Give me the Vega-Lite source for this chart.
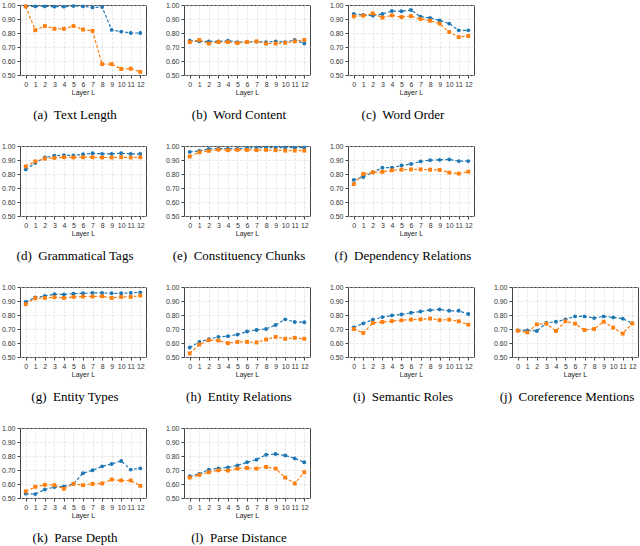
{
"$schema": "https://vega.github.io/schema/vega-lite/v6.json",
"padding": {"left": 0, "top": 0, "right": 0, "bottom": 0},
"bounds": "flush",
"columns": 4,
"spacing": {"row": 71, "column": 38},
"data": {"values": [
{"task":"a","layer":0,"series":"S1","value":0.99},{"task":"a","layer":1,"series":"S1","value":0.99},{"task":"a","layer":2,"series":"S1","value":0.99},{"task":"a","layer":3,"series":"S1","value":0.988},{"task":"a","layer":4,"series":"S1","value":0.988},{"task":"a","layer":5,"series":"S1","value":0.992},{"task":"a","layer":6,"series":"S1","value":0.99},{"task":"a","layer":7,"series":"S1","value":0.983},{"task":"a","layer":8,"series":"S1","value":0.985},{"task":"a","layer":9,"series":"S1","value":0.822},{"task":"a","layer":10,"series":"S1","value":0.81},{"task":"a","layer":11,"series":"S1","value":0.8},{"task":"a","layer":12,"series":"S1","value":0.8},
{"task":"a","layer":0,"series":"S2","value":0.99},{"task":"a","layer":1,"series":"S2","value":0.82},{"task":"a","layer":2,"series":"S2","value":0.85},{"task":"a","layer":3,"series":"S2","value":0.83},{"task":"a","layer":4,"series":"S2","value":0.83},{"task":"a","layer":5,"series":"S2","value":0.85},{"task":"a","layer":6,"series":"S2","value":0.825},{"task":"a","layer":7,"series":"S2","value":0.815},{"task":"a","layer":8,"series":"S2","value":0.578},{"task":"a","layer":9,"series":"S2","value":0.578},{"task":"a","layer":10,"series":"S2","value":0.543},{"task":"a","layer":11,"series":"S2","value":0.545},{"task":"a","layer":12,"series":"S2","value":0.523},
{"task":"b","layer":0,"series":"S1","value":0.745},{"task":"b","layer":1,"series":"S1","value":0.74},{"task":"b","layer":2,"series":"S1","value":0.74},{"task":"b","layer":3,"series":"S1","value":0.74},{"task":"b","layer":4,"series":"S1","value":0.745},{"task":"b","layer":5,"series":"S1","value":0.735},{"task":"b","layer":6,"series":"S1","value":0.735},{"task":"b","layer":7,"series":"S1","value":0.738},{"task":"b","layer":8,"series":"S1","value":0.735},{"task":"b","layer":9,"series":"S1","value":0.74},{"task":"b","layer":10,"series":"S1","value":0.735},{"task":"b","layer":11,"series":"S1","value":0.75},{"task":"b","layer":12,"series":"S1","value":0.725},
{"task":"b","layer":0,"series":"S2","value":0.735},{"task":"b","layer":1,"series":"S2","value":0.75},{"task":"b","layer":2,"series":"S2","value":0.725},{"task":"b","layer":3,"series":"S2","value":0.735},{"task":"b","layer":4,"series":"S2","value":0.735},{"task":"b","layer":5,"series":"S2","value":0.728},{"task":"b","layer":6,"series":"S2","value":0.735},{"task":"b","layer":7,"series":"S2","value":0.74},{"task":"b","layer":8,"series":"S2","value":0.725},{"task":"b","layer":9,"series":"S2","value":0.725},{"task":"b","layer":10,"series":"S2","value":0.73},{"task":"b","layer":11,"series":"S2","value":0.74},{"task":"b","layer":12,"series":"S2","value":0.75},
{"task":"c","layer":0,"series":"S1","value":0.936},{"task":"c","layer":1,"series":"S1","value":0.929},{"task":"c","layer":2,"series":"S1","value":0.924},{"task":"c","layer":3,"series":"S1","value":0.936},{"task":"c","layer":4,"series":"S1","value":0.957},{"task":"c","layer":5,"series":"S1","value":0.955},{"task":"c","layer":6,"series":"S1","value":0.964},{"task":"c","layer":7,"series":"S1","value":0.917},{"task":"c","layer":8,"series":"S1","value":0.907},{"task":"c","layer":9,"series":"S1","value":0.89},{"task":"c","layer":10,"series":"S1","value":0.867},{"task":"c","layer":11,"series":"S1","value":0.819},{"task":"c","layer":12,"series":"S1","value":0.819},
{"task":"c","layer":0,"series":"S2","value":0.919},{"task":"c","layer":1,"series":"S2","value":0.924},{"task":"c","layer":2,"series":"S2","value":0.94},{"task":"c","layer":3,"series":"S2","value":0.91},{"task":"c","layer":4,"series":"S2","value":0.926},{"task":"c","layer":5,"series":"S2","value":0.914},{"task":"c","layer":6,"series":"S2","value":0.921},{"task":"c","layer":7,"series":"S2","value":0.9},{"task":"c","layer":8,"series":"S2","value":0.888},{"task":"c","layer":9,"series":"S2","value":0.867},{"task":"c","layer":10,"series":"S2","value":0.807},{"task":"c","layer":11,"series":"S2","value":0.771},{"task":"c","layer":12,"series":"S2","value":0.779},
{"task":"d","layer":0,"series":"S1","value":0.833},{"task":"d","layer":1,"series":"S1","value":0.878},{"task":"d","layer":2,"series":"S1","value":0.918},{"task":"d","layer":3,"series":"S1","value":0.93},{"task":"d","layer":4,"series":"S1","value":0.934},{"task":"d","layer":5,"series":"S1","value":0.932},{"task":"d","layer":6,"series":"S1","value":0.941},{"task":"d","layer":7,"series":"S1","value":0.948},{"task":"d","layer":8,"series":"S1","value":0.944},{"task":"d","layer":9,"series":"S1","value":0.944},{"task":"d","layer":10,"series":"S1","value":0.948},{"task":"d","layer":11,"series":"S1","value":0.944},{"task":"d","layer":12,"series":"S1","value":0.944},
{"task":"d","layer":0,"series":"S2","value":0.854},{"task":"d","layer":1,"series":"S2","value":0.89},{"task":"d","layer":2,"series":"S2","value":0.91},{"task":"d","layer":3,"series":"S2","value":0.915},{"task":"d","layer":4,"series":"S2","value":0.92},{"task":"d","layer":5,"series":"S2","value":0.918},{"task":"d","layer":6,"series":"S2","value":0.92},{"task":"d","layer":7,"series":"S2","value":0.92},{"task":"d","layer":8,"series":"S2","value":0.918},{"task":"d","layer":9,"series":"S2","value":0.918},{"task":"d","layer":10,"series":"S2","value":0.92},{"task":"d","layer":11,"series":"S2","value":0.918},{"task":"d","layer":12,"series":"S2","value":0.92},
{"task":"e","layer":0,"series":"S1","value":0.958},{"task":"e","layer":1,"series":"S1","value":0.965},{"task":"e","layer":2,"series":"S1","value":0.979},{"task":"e","layer":3,"series":"S1","value":0.981},{"task":"e","layer":4,"series":"S1","value":0.981},{"task":"e","layer":5,"series":"S1","value":0.981},{"task":"e","layer":6,"series":"S1","value":0.986},{"task":"e","layer":7,"series":"S1","value":0.988},{"task":"e","layer":8,"series":"S1","value":0.988},{"task":"e","layer":9,"series":"S1","value":0.988},{"task":"e","layer":10,"series":"S1","value":0.988},{"task":"e","layer":11,"series":"S1","value":0.988},{"task":"e","layer":12,"series":"S1","value":0.988},
{"task":"e","layer":0,"series":"S2","value":0.925},{"task":"e","layer":1,"series":"S2","value":0.955},{"task":"e","layer":2,"series":"S2","value":0.965},{"task":"e","layer":3,"series":"S2","value":0.974},{"task":"e","layer":4,"series":"S2","value":0.97},{"task":"e","layer":5,"series":"S2","value":0.972},{"task":"e","layer":6,"series":"S2","value":0.972},{"task":"e","layer":7,"series":"S2","value":0.97},{"task":"e","layer":8,"series":"S2","value":0.972},{"task":"e","layer":9,"series":"S2","value":0.97},{"task":"e","layer":10,"series":"S2","value":0.967},{"task":"e","layer":11,"series":"S2","value":0.967},{"task":"e","layer":12,"series":"S2","value":0.967},
{"task":"f","layer":0,"series":"S1","value":0.758},{"task":"f","layer":1,"series":"S1","value":0.779},{"task":"f","layer":2,"series":"S1","value":0.812},{"task":"f","layer":3,"series":"S1","value":0.845},{"task":"f","layer":4,"series":"S1","value":0.845},{"task":"f","layer":5,"series":"S1","value":0.861},{"task":"f","layer":6,"series":"S1","value":0.871},{"task":"f","layer":7,"series":"S1","value":0.89},{"task":"f","layer":8,"series":"S1","value":0.899},{"task":"f","layer":9,"series":"S1","value":0.901},{"task":"f","layer":10,"series":"S1","value":0.904},{"task":"f","layer":11,"series":"S1","value":0.892},{"task":"f","layer":12,"series":"S1","value":0.892},
{"task":"f","layer":0,"series":"S2","value":0.728},{"task":"f","layer":1,"series":"S2","value":0.8},{"task":"f","layer":2,"series":"S2","value":0.812},{"task":"f","layer":3,"series":"S2","value":0.815},{"task":"f","layer":4,"series":"S2","value":0.826},{"task":"f","layer":5,"series":"S2","value":0.831},{"task":"f","layer":6,"series":"S2","value":0.833},{"task":"f","layer":7,"series":"S2","value":0.833},{"task":"f","layer":8,"series":"S2","value":0.831},{"task":"f","layer":9,"series":"S2","value":0.829},{"task":"f","layer":10,"series":"S2","value":0.81},{"task":"f","layer":11,"series":"S2","value":0.803},{"task":"f","layer":12,"series":"S2","value":0.817},
{"task":"g","layer":0,"series":"S1","value":0.894},{"task":"g","layer":1,"series":"S1","value":0.925},{"task":"g","layer":2,"series":"S1","value":0.936},{"task":"g","layer":3,"series":"S1","value":0.948},{"task":"g","layer":4,"series":"S1","value":0.946},{"task":"g","layer":5,"series":"S1","value":0.953},{"task":"g","layer":6,"series":"S1","value":0.955},{"task":"g","layer":7,"series":"S1","value":0.958},{"task":"g","layer":8,"series":"S1","value":0.958},{"task":"g","layer":9,"series":"S1","value":0.955},{"task":"g","layer":10,"series":"S1","value":0.955},{"task":"g","layer":11,"series":"S1","value":0.958},{"task":"g","layer":12,"series":"S1","value":0.962},
{"task":"g","layer":0,"series":"S2","value":0.877},{"task":"g","layer":1,"series":"S2","value":0.92},{"task":"g","layer":2,"series":"S2","value":0.922},{"task":"g","layer":3,"series":"S2","value":0.927},{"task":"g","layer":4,"series":"S2","value":0.922},{"task":"g","layer":5,"series":"S2","value":0.929},{"task":"g","layer":6,"series":"S2","value":0.932},{"task":"g","layer":7,"series":"S2","value":0.932},{"task":"g","layer":8,"series":"S2","value":0.934},{"task":"g","layer":9,"series":"S2","value":0.922},{"task":"g","layer":10,"series":"S2","value":0.929},{"task":"g","layer":11,"series":"S2","value":0.929},{"task":"g","layer":12,"series":"S2","value":0.939},
{"task":"h","layer":0,"series":"S1","value":0.568},{"task":"h","layer":1,"series":"S1","value":0.608},{"task":"h","layer":2,"series":"S1","value":0.627},{"task":"h","layer":3,"series":"S1","value":0.644},{"task":"h","layer":4,"series":"S1","value":0.649},{"task":"h","layer":5,"series":"S1","value":0.66},{"task":"h","layer":6,"series":"S1","value":0.682},{"task":"h","layer":7,"series":"S1","value":0.693},{"task":"h","layer":8,"series":"S1","value":0.7},{"task":"h","layer":9,"series":"S1","value":0.729},{"task":"h","layer":10,"series":"S1","value":0.769},{"task":"h","layer":11,"series":"S1","value":0.75},{"task":"h","layer":12,"series":"S1","value":0.748},
{"task":"h","layer":0,"series":"S2","value":0.526},{"task":"h","layer":1,"series":"S2","value":0.589},{"task":"h","layer":2,"series":"S2","value":0.62},{"task":"h","layer":3,"series":"S2","value":0.618},{"task":"h","layer":4,"series":"S2","value":0.599},{"task":"h","layer":5,"series":"S2","value":0.608},{"task":"h","layer":6,"series":"S2","value":0.608},{"task":"h","layer":7,"series":"S2","value":0.604},{"task":"h","layer":8,"series":"S2","value":0.625},{"task":"h","layer":9,"series":"S2","value":0.644},{"task":"h","layer":10,"series":"S2","value":0.63},{"task":"h","layer":11,"series":"S2","value":0.637},{"task":"h","layer":12,"series":"S2","value":0.63},
{"task":"i","layer":0,"series":"S1","value":0.712},{"task":"i","layer":1,"series":"S1","value":0.74},{"task":"i","layer":2,"series":"S1","value":0.767},{"task":"i","layer":3,"series":"S1","value":0.785},{"task":"i","layer":4,"series":"S1","value":0.797},{"task":"i","layer":5,"series":"S1","value":0.804},{"task":"i","layer":6,"series":"S1","value":0.816},{"task":"i","layer":7,"series":"S1","value":0.825},{"task":"i","layer":8,"series":"S1","value":0.835},{"task":"i","layer":9,"series":"S1","value":0.84},{"task":"i","layer":10,"series":"S1","value":0.83},{"task":"i","layer":11,"series":"S1","value":0.83},{"task":"i","layer":12,"series":"S1","value":0.807},
{"task":"i","layer":0,"series":"S2","value":0.7},{"task":"i","layer":1,"series":"S2","value":0.672},{"task":"i","layer":2,"series":"S2","value":0.743},{"task":"i","layer":3,"series":"S2","value":0.75},{"task":"i","layer":4,"series":"S2","value":0.757},{"task":"i","layer":5,"series":"S2","value":0.762},{"task":"i","layer":6,"series":"S2","value":0.767},{"task":"i","layer":7,"series":"S2","value":0.769},{"task":"i","layer":8,"series":"S2","value":0.774},{"task":"i","layer":9,"series":"S2","value":0.764},{"task":"i","layer":10,"series":"S2","value":0.767},{"task":"i","layer":11,"series":"S2","value":0.755},{"task":"i","layer":12,"series":"S2","value":0.731},
{"task":"j","layer":0,"series":"S1","value":0.69},{"task":"j","layer":1,"series":"S1","value":0.69},{"task":"j","layer":2,"series":"S1","value":0.686},{"task":"j","layer":3,"series":"S1","value":0.743},{"task":"j","layer":4,"series":"S1","value":0.752},{"task":"j","layer":5,"series":"S1","value":0.769},{"task":"j","layer":6,"series":"S1","value":0.79},{"task":"j","layer":7,"series":"S1","value":0.79},{"task":"j","layer":8,"series":"S1","value":0.778},{"task":"j","layer":9,"series":"S1","value":0.79},{"task":"j","layer":10,"series":"S1","value":0.783},{"task":"j","layer":11,"series":"S1","value":0.774},{"task":"j","layer":12,"series":"S1","value":0.74},
{"task":"j","layer":0,"series":"S2","value":0.688},{"task":"j","layer":1,"series":"S2","value":0.676},{"task":"j","layer":2,"series":"S2","value":0.733},{"task":"j","layer":3,"series":"S2","value":0.738},{"task":"j","layer":4,"series":"S2","value":0.686},{"task":"j","layer":5,"series":"S2","value":0.755},{"task":"j","layer":6,"series":"S2","value":0.738},{"task":"j","layer":7,"series":"S2","value":0.693},{"task":"j","layer":8,"series":"S2","value":0.7},{"task":"j","layer":9,"series":"S2","value":0.752},{"task":"j","layer":10,"series":"S2","value":0.71},{"task":"j","layer":11,"series":"S2","value":0.667},{"task":"j","layer":12,"series":"S2","value":0.74},
{"task":"k","layer":0,"series":"S1","value":0.531},{"task":"k","layer":1,"series":"S1","value":0.528},{"task":"k","layer":2,"series":"S1","value":0.561},{"task":"k","layer":3,"series":"S1","value":0.578},{"task":"k","layer":4,"series":"S1","value":0.583},{"task":"k","layer":5,"series":"S1","value":0.601},{"task":"k","layer":6,"series":"S1","value":0.677},{"task":"k","layer":7,"series":"S1","value":0.698},{"task":"k","layer":8,"series":"S1","value":0.726},{"task":"k","layer":9,"series":"S1","value":0.743},{"task":"k","layer":10,"series":"S1","value":0.764},{"task":"k","layer":11,"series":"S1","value":0.703},{"task":"k","layer":12,"series":"S1","value":0.712},
{"task":"k","layer":0,"series":"S2","value":0.547},{"task":"k","layer":1,"series":"S2","value":0.58},{"task":"k","layer":2,"series":"S2","value":0.594},{"task":"k","layer":3,"series":"S2","value":0.592},{"task":"k","layer":4,"series":"S2","value":0.566},{"task":"k","layer":5,"series":"S2","value":0.601},{"task":"k","layer":6,"series":"S2","value":0.592},{"task":"k","layer":7,"series":"S2","value":0.601},{"task":"k","layer":8,"series":"S2","value":0.604},{"task":"k","layer":9,"series":"S2","value":0.632},{"task":"k","layer":10,"series":"S2","value":0.625},{"task":"k","layer":11,"series":"S2","value":0.625},{"task":"k","layer":12,"series":"S2","value":0.587},
{"task":"l","layer":0,"series":"S1","value":0.656},{"task":"l","layer":1,"series":"S1","value":0.672},{"task":"l","layer":2,"series":"S1","value":0.703},{"task":"l","layer":3,"series":"S1","value":0.712},{"task":"l","layer":4,"series":"S1","value":0.719},{"task":"l","layer":5,"series":"S1","value":0.733},{"task":"l","layer":6,"series":"S1","value":0.755},{"task":"l","layer":7,"series":"S1","value":0.774},{"task":"l","layer":8,"series":"S1","value":0.809},{"task":"l","layer":9,"series":"S1","value":0.814},{"task":"l","layer":10,"series":"S1","value":0.804},{"task":"l","layer":11,"series":"S1","value":0.783},{"task":"l","layer":12,"series":"S1","value":0.755},
{"task":"l","layer":0,"series":"S2","value":0.646},{"task":"l","layer":1,"series":"S2","value":0.665},{"task":"l","layer":2,"series":"S2","value":0.684},{"task":"l","layer":3,"series":"S2","value":0.698},{"task":"l","layer":4,"series":"S2","value":0.696},{"task":"l","layer":5,"series":"S2","value":0.71},{"task":"l","layer":6,"series":"S2","value":0.715},{"task":"l","layer":7,"series":"S2","value":0.71},{"task":"l","layer":8,"series":"S2","value":0.722},{"task":"l","layer":9,"series":"S2","value":0.71},{"task":"l","layer":10,"series":"S2","value":0.646},{"task":"l","layer":11,"series":"S2","value":0.604},{"task":"l","layer":12,"series":"S2","value":0.684}
]},
"concat": [
{"title": "(a)\u00a0 Text Length", "width": 126, "height": 70, "transform": [{"filter": "datum.task == 'a'"}],
 "encoding": {"x": {"field": "layer", "type": "quantitative", "scale": {"domain": [-0.6, 12.6], "nice": false, "zero": false}, "axis": {"values": [0,1,2,3,4,5,6,7,8,9,10,11,12], "title": "Layer L"}}, "y": {"field": "value", "type": "quantitative", "scale": {"domain": [0.5, 1.0], "nice": false, "zero": false}, "axis": {"values": [0.5,0.6,0.7,0.8,0.9,1.0], "format": ".2f", "title": null}}, "color": {"field": "series", "type": "nominal", "scale": {"domain": ["S1","S2"], "range": ["#1f77b4","#ff7f0e"]}, "legend": null}},
 "layer": [{"mark": {"type": "line", "strokeDash": [3,2], "strokeWidth": 1.2}}, {"mark": {"type": "point", "filled": true, "size": 15, "opacity": 1}, "encoding": {"shape": {"field": "series", "type": "nominal", "scale": {"domain": ["S1","S2"], "range": ["circle","square"]}, "legend": null}}}]},
{"title": "(b)\u00a0 Word Content", "width": 126, "height": 70, "transform": [{"filter": "datum.task == 'b'"}],
 "encoding": {"x": {"field": "layer", "type": "quantitative", "scale": {"domain": [-0.6, 12.6], "nice": false, "zero": false}, "axis": {"values": [0,1,2,3,4,5,6,7,8,9,10,11,12], "title": "Layer L"}}, "y": {"field": "value", "type": "quantitative", "scale": {"domain": [0.5, 1.0], "nice": false, "zero": false}, "axis": {"values": [0.5,0.6,0.7,0.8,0.9,1.0], "format": ".2f", "title": null}}, "color": {"field": "series", "type": "nominal", "scale": {"domain": ["S1","S2"], "range": ["#1f77b4","#ff7f0e"]}, "legend": null}},
 "layer": [{"mark": {"type": "line", "strokeDash": [3,2], "strokeWidth": 1.2}}, {"mark": {"type": "point", "filled": true, "size": 15, "opacity": 1}, "encoding": {"shape": {"field": "series", "type": "nominal", "scale": {"domain": ["S1","S2"], "range": ["circle","square"]}, "legend": null}}}]},
{"title": "(c)\u00a0 Word Order", "width": 126, "height": 70, "transform": [{"filter": "datum.task == 'c'"}],
 "encoding": {"x": {"field": "layer", "type": "quantitative", "scale": {"domain": [-0.6, 12.6], "nice": false, "zero": false}, "axis": {"values": [0,1,2,3,4,5,6,7,8,9,10,11,12], "title": "Layer L"}}, "y": {"field": "value", "type": "quantitative", "scale": {"domain": [0.5, 1.0], "nice": false, "zero": false}, "axis": {"values": [0.5,0.6,0.7,0.8,0.9,1.0], "format": ".2f", "title": null}}, "color": {"field": "series", "type": "nominal", "scale": {"domain": ["S1","S2"], "range": ["#1f77b4","#ff7f0e"]}, "legend": null}},
 "layer": [{"mark": {"type": "line", "strokeDash": [3,2], "strokeWidth": 1.2}}, {"mark": {"type": "point", "filled": true, "size": 15, "opacity": 1}, "encoding": {"shape": {"field": "series", "type": "nominal", "scale": {"domain": ["S1","S2"], "range": ["circle","square"]}, "legend": null}}}]},
{"width": 126, "height": 70, "data": {"values": []}, "mark": {"type": "point"}, "encoding": {}, "view": {"stroke": null}},
{"title": "(d)\u00a0 Grammatical Tags", "width": 126, "height": 70, "transform": [{"filter": "datum.task == 'd'"}],
 "encoding": {"x": {"field": "layer", "type": "quantitative", "scale": {"domain": [-0.6, 12.6], "nice": false, "zero": false}, "axis": {"values": [0,1,2,3,4,5,6,7,8,9,10,11,12], "title": "Layer L"}}, "y": {"field": "value", "type": "quantitative", "scale": {"domain": [0.5, 1.0], "nice": false, "zero": false}, "axis": {"values": [0.5,0.6,0.7,0.8,0.9,1.0], "format": ".2f", "title": null}}, "color": {"field": "series", "type": "nominal", "scale": {"domain": ["S1","S2"], "range": ["#1f77b4","#ff7f0e"]}, "legend": null}},
 "layer": [{"mark": {"type": "line", "strokeDash": [3,2], "strokeWidth": 1.2}}, {"mark": {"type": "point", "filled": true, "size": 15, "opacity": 1}, "encoding": {"shape": {"field": "series", "type": "nominal", "scale": {"domain": ["S1","S2"], "range": ["circle","square"]}, "legend": null}}}]},
{"title": "(e)\u00a0 Constituency Chunks", "width": 126, "height": 70, "transform": [{"filter": "datum.task == 'e'"}],
 "encoding": {"x": {"field": "layer", "type": "quantitative", "scale": {"domain": [-0.6, 12.6], "nice": false, "zero": false}, "axis": {"values": [0,1,2,3,4,5,6,7,8,9,10,11,12], "title": "Layer L"}}, "y": {"field": "value", "type": "quantitative", "scale": {"domain": [0.5, 1.0], "nice": false, "zero": false}, "axis": {"values": [0.5,0.6,0.7,0.8,0.9,1.0], "format": ".2f", "title": null}}, "color": {"field": "series", "type": "nominal", "scale": {"domain": ["S1","S2"], "range": ["#1f77b4","#ff7f0e"]}, "legend": null}},
 "layer": [{"mark": {"type": "line", "strokeDash": [3,2], "strokeWidth": 1.2}}, {"mark": {"type": "point", "filled": true, "size": 15, "opacity": 1}, "encoding": {"shape": {"field": "series", "type": "nominal", "scale": {"domain": ["S1","S2"], "range": ["circle","square"]}, "legend": null}}}]},
{"title": "(f)\u00a0 Dependency Relations", "width": 126, "height": 70, "transform": [{"filter": "datum.task == 'f'"}],
 "encoding": {"x": {"field": "layer", "type": "quantitative", "scale": {"domain": [-0.6, 12.6], "nice": false, "zero": false}, "axis": {"values": [0,1,2,3,4,5,6,7,8,9,10,11,12], "title": "Layer L"}}, "y": {"field": "value", "type": "quantitative", "scale": {"domain": [0.5, 1.0], "nice": false, "zero": false}, "axis": {"values": [0.5,0.6,0.7,0.8,0.9,1.0], "format": ".2f", "title": null}}, "color": {"field": "series", "type": "nominal", "scale": {"domain": ["S1","S2"], "range": ["#1f77b4","#ff7f0e"]}, "legend": null}},
 "layer": [{"mark": {"type": "line", "strokeDash": [3,2], "strokeWidth": 1.2}}, {"mark": {"type": "point", "filled": true, "size": 15, "opacity": 1}, "encoding": {"shape": {"field": "series", "type": "nominal", "scale": {"domain": ["S1","S2"], "range": ["circle","square"]}, "legend": null}}}]},
{"width": 126, "height": 70, "data": {"values": []}, "mark": {"type": "point"}, "encoding": {}, "view": {"stroke": null}},
{"title": "(g)\u00a0 Entity Types", "width": 126, "height": 70, "transform": [{"filter": "datum.task == 'g'"}],
 "encoding": {"x": {"field": "layer", "type": "quantitative", "scale": {"domain": [-0.6, 12.6], "nice": false, "zero": false}, "axis": {"values": [0,1,2,3,4,5,6,7,8,9,10,11,12], "title": "Layer L"}}, "y": {"field": "value", "type": "quantitative", "scale": {"domain": [0.5, 1.0], "nice": false, "zero": false}, "axis": {"values": [0.5,0.6,0.7,0.8,0.9,1.0], "format": ".2f", "title": null}}, "color": {"field": "series", "type": "nominal", "scale": {"domain": ["S1","S2"], "range": ["#1f77b4","#ff7f0e"]}, "legend": null}},
 "layer": [{"mark": {"type": "line", "strokeDash": [3,2], "strokeWidth": 1.2}}, {"mark": {"type": "point", "filled": true, "size": 15, "opacity": 1}, "encoding": {"shape": {"field": "series", "type": "nominal", "scale": {"domain": ["S1","S2"], "range": ["circle","square"]}, "legend": null}}}]},
{"title": "(h)\u00a0 Entity Relations", "width": 126, "height": 70, "transform": [{"filter": "datum.task == 'h'"}],
 "encoding": {"x": {"field": "layer", "type": "quantitative", "scale": {"domain": [-0.6, 12.6], "nice": false, "zero": false}, "axis": {"values": [0,1,2,3,4,5,6,7,8,9,10,11,12], "title": "Layer L"}}, "y": {"field": "value", "type": "quantitative", "scale": {"domain": [0.5, 1.0], "nice": false, "zero": false}, "axis": {"values": [0.5,0.6,0.7,0.8,0.9,1.0], "format": ".2f", "title": null}}, "color": {"field": "series", "type": "nominal", "scale": {"domain": ["S1","S2"], "range": ["#1f77b4","#ff7f0e"]}, "legend": null}},
 "layer": [{"mark": {"type": "line", "strokeDash": [3,2], "strokeWidth": 1.2}}, {"mark": {"type": "point", "filled": true, "size": 15, "opacity": 1}, "encoding": {"shape": {"field": "series", "type": "nominal", "scale": {"domain": ["S1","S2"], "range": ["circle","square"]}, "legend": null}}}]},
{"title": "(i)\u00a0 Semantic Roles", "width": 126, "height": 70, "transform": [{"filter": "datum.task == 'i'"}],
 "encoding": {"x": {"field": "layer", "type": "quantitative", "scale": {"domain": [-0.6, 12.6], "nice": false, "zero": false}, "axis": {"values": [0,1,2,3,4,5,6,7,8,9,10,11,12], "title": "Layer L"}}, "y": {"field": "value", "type": "quantitative", "scale": {"domain": [0.5, 1.0], "nice": false, "zero": false}, "axis": {"values": [0.5,0.6,0.7,0.8,0.9,1.0], "format": ".2f", "title": null}}, "color": {"field": "series", "type": "nominal", "scale": {"domain": ["S1","S2"], "range": ["#1f77b4","#ff7f0e"]}, "legend": null}},
 "layer": [{"mark": {"type": "line", "strokeDash": [3,2], "strokeWidth": 1.2}}, {"mark": {"type": "point", "filled": true, "size": 15, "opacity": 1}, "encoding": {"shape": {"field": "series", "type": "nominal", "scale": {"domain": ["S1","S2"], "range": ["circle","square"]}, "legend": null}}}]},
{"title": "(j)\u00a0 Coreference Mentions", "width": 126, "height": 70, "transform": [{"filter": "datum.task == 'j'"}],
 "encoding": {"x": {"field": "layer", "type": "quantitative", "scale": {"domain": [-0.6, 12.6], "nice": false, "zero": false}, "axis": {"values": [0,1,2,3,4,5,6,7,8,9,10,11,12], "title": "Layer L"}}, "y": {"field": "value", "type": "quantitative", "scale": {"domain": [0.5, 1.0], "nice": false, "zero": false}, "axis": {"values": [0.5,0.6,0.7,0.8,0.9,1.0], "format": ".2f", "title": null}}, "color": {"field": "series", "type": "nominal", "scale": {"domain": ["S1","S2"], "range": ["#1f77b4","#ff7f0e"]}, "legend": null}},
 "layer": [{"mark": {"type": "line", "strokeDash": [3,2], "strokeWidth": 1.2}}, {"mark": {"type": "point", "filled": true, "size": 15, "opacity": 1}, "encoding": {"shape": {"field": "series", "type": "nominal", "scale": {"domain": ["S1","S2"], "range": ["circle","square"]}, "legend": null}}}]},
{"title": "(k)\u00a0 Parse Depth", "width": 126, "height": 70, "transform": [{"filter": "datum.task == 'k'"}],
 "encoding": {"x": {"field": "layer", "type": "quantitative", "scale": {"domain": [-0.6, 12.6], "nice": false, "zero": false}, "axis": {"values": [0,1,2,3,4,5,6,7,8,9,10,11,12], "title": "Layer L"}}, "y": {"field": "value", "type": "quantitative", "scale": {"domain": [0.5, 1.0], "nice": false, "zero": false}, "axis": {"values": [0.5,0.6,0.7,0.8,0.9,1.0], "format": ".2f", "title": null}}, "color": {"field": "series", "type": "nominal", "scale": {"domain": ["S1","S2"], "range": ["#1f77b4","#ff7f0e"]}, "legend": null}},
 "layer": [{"mark": {"type": "line", "strokeDash": [3,2], "strokeWidth": 1.2}}, {"mark": {"type": "point", "filled": true, "size": 15, "opacity": 1}, "encoding": {"shape": {"field": "series", "type": "nominal", "scale": {"domain": ["S1","S2"], "range": ["circle","square"]}, "legend": null}}}]},
{"title": "(l)\u00a0 Parse Distance", "width": 126, "height": 70, "transform": [{"filter": "datum.task == 'l'"}],
 "encoding": {"x": {"field": "layer", "type": "quantitative", "scale": {"domain": [-0.6, 12.6], "nice": false, "zero": false}, "axis": {"values": [0,1,2,3,4,5,6,7,8,9,10,11,12], "title": "Layer L"}}, "y": {"field": "value", "type": "quantitative", "scale": {"domain": [0.5, 1.0], "nice": false, "zero": false}, "axis": {"values": [0.5,0.6,0.7,0.8,0.9,1.0], "format": ".2f", "title": null}}, "color": {"field": "series", "type": "nominal", "scale": {"domain": ["S1","S2"], "range": ["#1f77b4","#ff7f0e"]}, "legend": null}},
 "layer": [{"mark": {"type": "line", "strokeDash": [3,2], "strokeWidth": 1.2}}, {"mark": {"type": "point", "filled": true, "size": 15, "opacity": 1}, "encoding": {"shape": {"field": "series", "type": "nominal", "scale": {"domain": ["S1","S2"], "range": ["circle","square"]}, "legend": null}}}]}
],
"config": {
 "font": "Liberation Sans",
 "view": {"stroke": "#444", "strokeWidth": 1},
 "axis": {"labelFontSize": 7, "labelColor": "#333", "labelFont": "Liberation Sans", "tickColor": "#444", "tickSize": 3, "domain": false, "gridColor": "#cfcfcf", "gridDash": [2,2], "gridWidth": 0.6, "titleFontSize": 7, "titleFont": "Liberation Sans", "titleFontWeight": "normal", "titleColor": "#222", "labelPadding": 2, "titlePadding": 1, "labelFlush": false},
 "title": {"font": "Liberation Serif", "fontSize": 13, "fontWeight": "normal", "color": "#000", "orient": "bottom", "anchor": "middle", "offset": 14, "dx": -8}
}
}
